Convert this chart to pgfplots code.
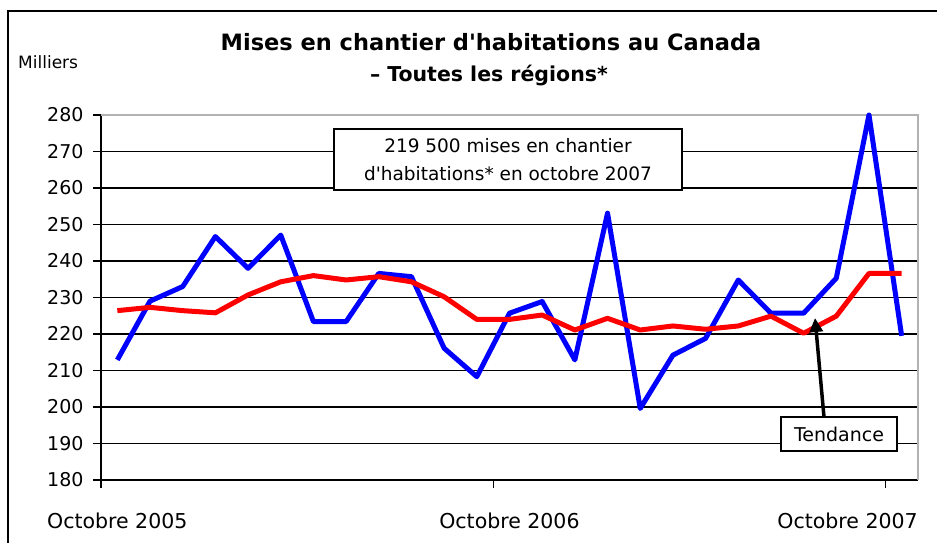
\documentclass[border=0pt]{standalone}
\usepackage{pgfplots}
\pgfplotsset{compat=1.18}
\usepackage{fontspec}
\setmainfont{DejaVu Sans}[Ligatures=TeXOff]
\usetikzlibrary{arrows.meta}
\begin{document}
\begin{tikzpicture}[x=1pt,y=1pt]
\useasboundingbox (0,0) rectangle (937,542);
\draw[line width=1.5pt] (8,-20) -- (8,531) -- (960,531);
\begin{axis}[
 at={(101pt,62pt)}, anchor=south west,
 width=817pt, height=365pt, scale only axis,
 xmin=-0.5, xmax=24.5, ymin=180, ymax=280,
 ytick={180,190,...,280},
 ymajorgrids, y grid style={black, line width=1.3pt},
 axis x line*=bottom, axis y line*=left,
 axis line style={black, line width=1.3pt, -},
 tick align=outside, major tick length=8pt,
 tick style={black, line width=1.3pt},
 xtick={-0.5,11.5}, xticklabels={Octobre 2005, Octobre 2006},
 xticklabel style={xshift=16.3pt, yshift=-21pt, font=\fontsize{20.5}{23}\selectfont},
 yticklabel style={xshift=-6pt, font=\fontsize{19}{22}\selectfont},
 extra x ticks={23.5}, extra x tick labels={Octobre 2007},
 extra x tick style={xticklabel style={xshift=-54pt}},
 /pgf/number format/assume math mode=true,
 clip=false,
]
\draw[gray!60, line width=1.5pt] (rel axis cs:0,1) -- (rel axis cs:1,1) -- (rel axis cs:1,0);
\addplot[blue, line width=5pt, line join=round] coordinates {
(0,212.9) (1,229) (2,233) (3,246.7) (4,238) (5,247.1) (6,223.4) (7,223.4) (8,236.6) (9,235.7)
(10,216.1) (11,208.3) (12,225.7) (13,228.9) (14,212.9) (15,253.1) (16,199.6) (17,214.2) (18,218.8)
(19,234.8) (20,225.7) (21,225.7) (22,235.3) (23,280) (24,219.5)};
\addplot[red, line width=5pt, line join=round] coordinates {
(0,226.4) (1,227.3) (2,226.4) (3,225.8) (4,230.7) (5,234.3) (6,236) (7,234.8) (8,235.7) (9,234.3)
(10,230.2) (11,224) (12,224) (13,225.2) (14,221.1) (15,224.3) (16,221.1) (17,222.2) (18,221.3)
(19,222.2) (20,224.9) (21,220.2) (22,224.9) (23,236.6) (24,236.6)};
\end{axis}
\node[font=\bfseries\fontsize{22.5}{26}\selectfont] at (491,500) {Mises en chantier d'habitations au Canada};
\node[font=\bfseries\fontsize{20.5}{24}\selectfont] at (489,466) {–\,\,Toutes les régions*};
\node[anchor=west, inner sep=0pt, font=\fontsize{17}{20}\selectfont] at (18,480) {Milliers};
\node[draw=black, fill=white, line width=1.2pt, minimum width=348pt, minimum height=61pt, align=center,
 font=\fontsize{18.5}{28}\selectfont] at (508,382.5) {219 500 mises en chantier\\d'habitations* en octobre 2007};
\draw[line width=3.5pt, -{Triangle[length=14pt,width=13pt]}] (824,125) -- (815,224);
\node[draw=black, fill=white, line width=1.2pt, minimum width=116pt, minimum height=34pt,
 font=\fontsize{19}{22}\selectfont] at (839,108) {Tendance};
\end{tikzpicture}
\end{document}
